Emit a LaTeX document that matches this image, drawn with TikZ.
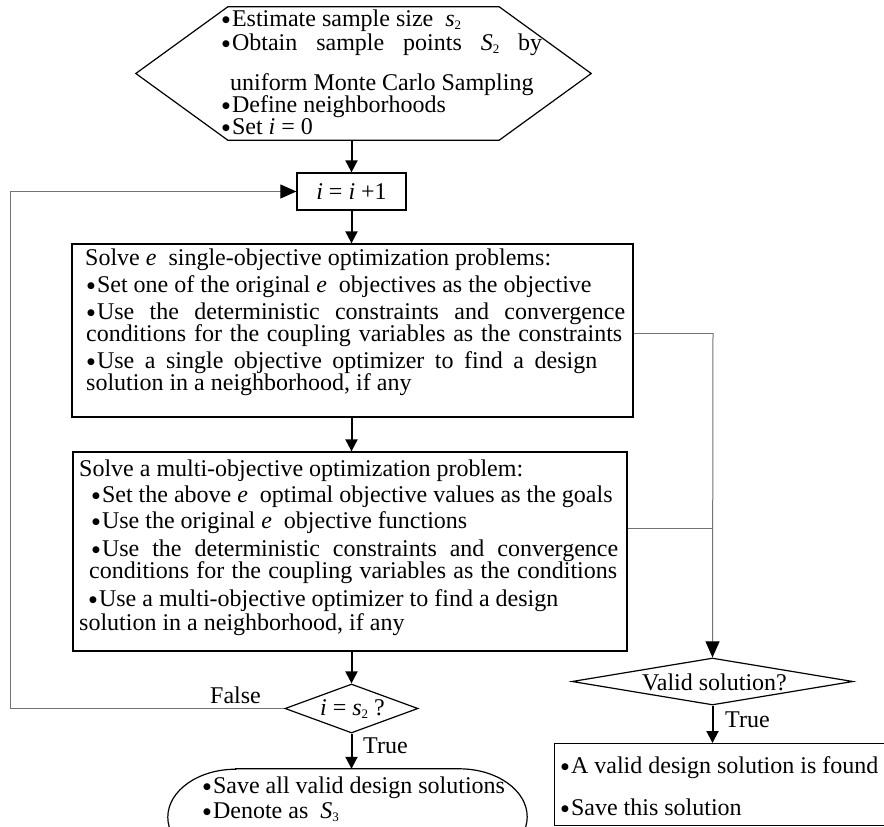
\documentclass[tikz,border=0pt]{standalone}
\usepackage{fontspec}
\setmainfont{Liberation Serif}
\newfontfamily\dvfont{DejaVu Sans}
\usetikzlibrary{arrows.meta,shapes.geometric}
\newcommand\bul{\raisebox{4pt}{\dvfont\fontsize{9}{9}\selectfont ●}\kern2pt}
\newcommand\mv[1]{\textit{#1}}
\newcommand\sbs[1]{\raisebox{-0.35ex}{\fontsize{13}{13}\selectfont #1}}
\begin{document}
\begin{tikzpicture}[x=1pt,y=-1pt,
  font=\fontsize{24}{24}\selectfont,
  txt/.style={anchor=base west, inner sep=0pt, text height=14pt, text depth=2pt},
  box/.style={draw, line width=1.3pt, inner sep=0pt, rectangle},
  flow/.style={line width=2pt, -{Triangle[length=12pt,width=12pt]}},
  grayline/.style={draw=black!55, line width=1pt},
  grayarrow/.style={grayline, -{Triangle[length=16pt,width=14pt,color=black]}}]
\useasboundingbox (0,0) rectangle (884,827);
\clip (0,0) rectangle (884,827);

% hexagon
\node[minimum width=271pt, minimum height=133pt, inner sep=0pt] (hex) at (363.5,73.5) {};
\draw[line width=1.2pt] (hex.north west) -- (hex.north east) -- ([xshift=92pt]hex.east)
  -- (hex.south east) -- (hex.south west) -- ([xshift=-92pt]hex.west) -- cycle;
\node[txt] (h1) at (222,26) {\bul Estimate sample size\ \ \mv{s}\sbs{2}};
\node[txt] (h2) at (222,50) {\makebox[320pt][s]{\bul Obtain sample points \mv{S}\sbs{2} by}};
\node[txt] (h3) at (230,90) {uniform Monte Carlo Sampling};
\node[txt] (h4) at (222,112) {\bul Define neighborhoods};
\node[txt] (h5) at (222,134) {\bul Set \mv{i} = 0};

% i = i + 1
\node[box, minimum width=109pt, minimum height=37pt] (inc) at (351.5,191.5) {\mv{i} = \mv{i} +1};

% box 1
\node[box, minimum width=561pt, minimum height=173pt] (B1) at (352.5,330.5) {};
\node[txt] (a1) at (85,265) {Solve \mv{e}\ \ single-objective optimization problems:};
\node[txt] (a2) at (87,292) {\bul Set one of the original \mv{e}\ \ objectives as the objective};
\node[txt] (a3) at (87,319) {\makebox[538pt][s]{\bul Use the deterministic constraints and convergence}};
\node[txt] (a4) at (86,341) {\makebox[536pt][s]{conditions for the coupling variables as the constraints}};
\node[txt] (a5) at (87,368) {\makebox[510pt][s]{\bul Use a single objective optimizer to find a design}};
\node[txt] (a6) at (86,390) {solution in a neighborhood, if any};

% box 2
\node[box, minimum width=554pt, minimum height=199pt] (B2) at (350,551.5) {};
\node[txt] (c1) at (79,476) {Solve a multi-objective optimization problem:};
\node[txt] (c2) at (92,502) {\bul Set the above \mv{e}\ \ optimal objective values as the goals};
\node[txt] (c3) at (92,528) {\bul Use the original \mv{e}\ \ objective functions};
\node[txt] (c4) at (92,556) {\makebox[526pt][s]{\bul Use the deterministic constraints and convergence}};
\node[txt] (c5) at (89,578) {\makebox[528pt][s]{conditions for the coupling variables as the conditions}};
\node[txt] (c6) at (89,606) {\bul Use a multi-objective optimizer to find a design};
\node[txt] (c7) at (79,630) {solution in a neighborhood, if any};

% decision i = s2
\node[diamond, draw, line width=1.2pt, inner sep=0pt, minimum width=133pt, minimum height=49pt] (d1) at (351.5,708.5) {};
\node[txt] (d1t) at (320,715) {\mv{i} = \mv{s}\sbs{2} ?};

% end terminator
\node[inner sep=0pt, minimum width=359pt, minimum height=96pt] (el) at (347.5,817) {};
\draw[line width=1.2pt] ([xshift=68pt]el.north west) -- ([xshift=-68pt]el.north east)
  arc[start angle=270, end angle=360, x radius=68, y radius=48]
  arc[start angle=0, end angle=90, x radius=68, y radius=48]
  -- ([xshift=68pt]el.south west)
  arc[start angle=90, end angle=180, x radius=68, y radius=48]
  arc[start angle=180, end angle=270, x radius=68, y radius=48] -- cycle;
\node[txt] (e1) at (203,793) {\bul Save all valid design solutions};
\node[txt] (e2) at (203,818) {\bul Denote as\ \ \mv{S}\sbs{3}};

% decision valid solution
\node[diamond, draw, line width=1.2pt, inner sep=0pt, minimum width=281pt, minimum height=47pt] (d2) at (712.5,681.5) {};
\node[txt] (d2t) at (642,690) {Valid solution?};

% found box
\node[box, anchor=north west, minimum width=400pt, minimum height=82pt] (fb) at (554,743) {};
\node[txt] (f1) at (561,773) {\bul A valid design solution is found};
\node[txt] (f2) at (561,815) {\bul Save this solution};

% main flow
\draw[flow] (hex.south -| inc.north) -- (inc.north);
\draw[flow] (inc.south) -- (inc.south |- B1.north);
\draw[flow] (B1.south -| inc.south) -- (B2.north -| inc.south);
\draw[flow] (B2.south -| inc.south) -- (d1.north);
\draw[flow] (d1.south) -- (el.north -| d1.south);
\draw[flow] (d2.south) -- (d2.south |- fb.north);

% loop back
\draw[grayarrow] (d1.west) -- ([xshift=-274pt]d1.west) |- (inc.west);
\node[txt] (lf) at (210,703) {False};
\node[txt] (lt1) at (363,753) {True};

% right connectors
\coordinate (j1) at (713,333);
\coordinate (j2) at (713,528);
\draw[grayline] (B1.east |- j1) -- (j1);
\draw[grayline] (B2.east |- j2) -- (j2);
\draw[grayarrow] (j1) -- (d2.north);
\node[txt] (lt2) at (725,727) {True};
\end{tikzpicture}
\end{document}
